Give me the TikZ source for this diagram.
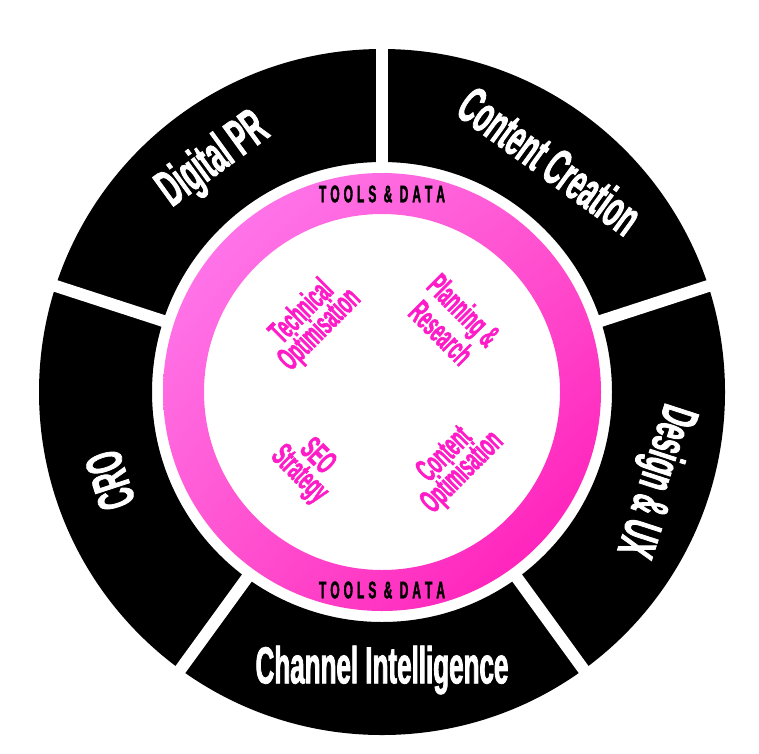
\documentclass[tikz,border=0pt]{standalone}
\usepackage{fontspec}
\newfontfamily\condfont[FakeStretch=0.5,BoldFont={Liberation Sans Bold},BoldFeatures={FakeStretch=0.5,FakeBold=1.5}]{Liberation Sans}
\usetikzlibrary{calc,shadings}
\definecolor{hotpink}{HTML}{FF1CC8}
\definecolor{lightpink}{HTML}{FF80F2}
\definecolor{midpink}{HTML}{FF55D0}
\definecolor{deeppink}{HTML}{FF12B4}
\tikzset{
	outerlbl/.style={text=white,font=\condfont\bfseries\fontsize{52}{52}\selectfont,inner sep=0},
	innerlbl/.style={text=hotpink,font=\condfont\bfseries\fontsize{33}{25}\selectfont,align=center,inner sep=0},
	ringlbl/.style={text=black,font=\condfont\bfseries\fontsize{24}{24}\selectfont,inner sep=0}
}
\begin{document}
\begin{tikzpicture}[x=1pt,y=1pt]
		\useasboundingbox (0,0) rectangle (759,-753);
		\coordinate (c) at (382,-392); %centre
		% black outer ring
		\fill[black,even odd rule] (c) circle (343) (c) circle (230);
		\foreach \a in {90,18,-54,-126,162}{ %gaps
			\draw[white,line width=12] ($(c)+(\a:222)$) -- ($(c)+(\a:352)$);
		}
		% pink ring
		\shade[upper left=lightpink,lower right=deeppink,upper right=midpink,lower left=midpink,even odd rule] (c) circle (219) (c) circle (178);
		\node[outerlbl,rotate=36] (dpr) at ($(c)+(126:286)$) {Digital PR};
		\node[outerlbl,rotate=-36] (cc) at ($(c)+(54:286)$) {Content Creation};
		\node[outerlbl,rotate=-108] (dux) at ($(c)+(-18:286)$) {Design \& UX};
		\node[outerlbl] (ci) at ($(c)+(-90:278)$) {Channel Intelligence};
		\node[outerlbl,rotate=108] (cro) at ($(c)+(198:286)$) {CRO};
		\node[ringlbl] (tdtop) at ($(c)+(90:198)$) {T\,O\,O\,L\,S \,\&\, D\,A\,T\,A};
		\node[ringlbl] (tdbot) at ($(c)+(-90:198)$) {T\,O\,O\,L\,S \,\&\, D\,A\,T\,A};
		\node[innerlbl,rotate=45] (tech) at ($(c)+(135:100)$) {Technical\\Optimisation};
		\node[innerlbl,rotate=-45] (plan) at ($(c)+(45:100)$) {Planning \&\\Research};
		\node[innerlbl,rotate=-45] (seo) at ($(c)+(225:105)$) {SEO\\Strategy};
		\node[innerlbl,rotate=45] (copt) at ($(c)+(-45:102)$) {Content\\Optimisation};
	\end{tikzpicture}
\end{document}
